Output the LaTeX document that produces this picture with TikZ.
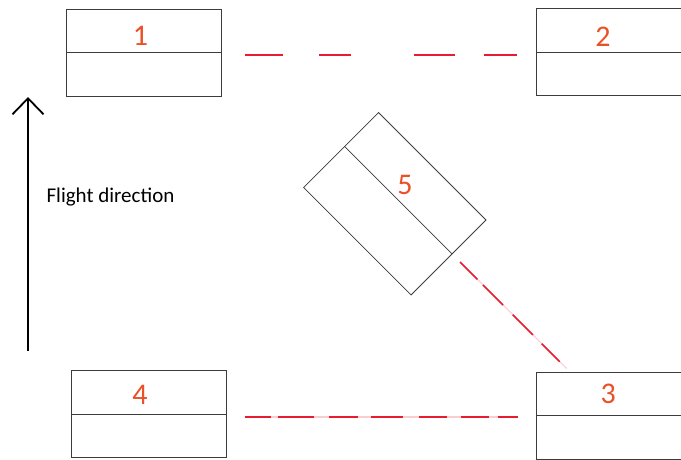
\documentclass[tikz,border=0pt]{standalone}
\usepackage{fontspec}
\setmainfont{Carlito}
\usetikzlibrary{arrows.meta,calc}

\definecolor{numred}{RGB}{235,80,38}
\definecolor{linkred}{RGB}{232,28,48}
\definecolor{boxline}{RGB}{60,60,60}

\tikzset{
  box/.style={draw=boxline, line width=0.8pt, minimum width=155pt,
    minimum height=87pt, inner sep=0pt, outer sep=0pt},
  divider/.style={draw=boxline, line width=0.8pt},
  num/.style={text=numred, inner sep=0pt, font=\fontsize{30}{30}\selectfont},
  link/.style={draw=linkred, line width=1.6pt},
  linkhaze/.style={draw=linkred!22, line width=1.2pt},
  heading/.style={draw=black, line width=1.8pt,
    -{Straight Barb[length=16pt,width=31pt,line width=1.8pt]}},
}

\begin{document}
\begin{tikzpicture}[x=1pt,y=-1pt]
  \clip (0,0) rectangle (681,459);
  \fill[white] (0,0) rectangle (681,459);

  % four parallel units
  \node[box] (n1) at (143.5,52.4) {};
  \node[box] (n2) at (614.2,52.2) {};
  \node[box] (n3) at (613.5,415.5) {};
  \node[box] (n4) at (149.1,414.3) {};
  \foreach \b in {n1,n2,n3,n4}
    \draw[divider] (\b.west) -- (\b.east);

  % the turned unit
  \node[box, minimum width=152pt, minimum height=106pt, rotate=-45]
    (n5) at (394.8,203.75) {};
  \coordinate (d5a) at ($(n5.north west)!48pt!(n5.south west)$);
  \coordinate (d5b) at ($(n5.north east)!48pt!(n5.south east)$);
  \draw[divider] (d5a) -- (d5b);

  % unit numbers
  \node[num] (l1) at (140.4,35.8) {1};
  \node[num] (l2) at (603.0,36.5) {2};
  \node[num] (l3) at (608.3,394.3) {3};
  \node[num] (l4) at (140.0,395.0) {4};
  \node[num] (l5) at (405.0,185.0) {5};

  % dashed links between units
  \draw[link, dash pattern=on 37.7pt off 36.6pt on 32pt off 63pt on 40.7pt off 29pt on 32.7pt off 60pt]
    ($(n1.east)+(24,2.6)$) -- ($(n2.west)+(-20,2.8)$);

  \draw[linkhaze] ($(n4.east)+(18,2.7)$) -- ($(n3.west)+(-17.8,1.5)$);
  \draw[link, dash pattern=on 26pt off 7.7pt on 35.3pt off 15.3pt on 29pt off 12.7pt on 32.7pt off 16pt on 27.3pt off 14pt on 28.3pt off 8.7pt on 20.7pt off 60pt]
    ($(n4.east)+(18,2.7)$) -- ($(n3.west)+(-17.8,1.5)$);

  \coordinate (s5) at ($(d5b)!-11.3pt!(d5a)$);
  \coordinate (e5) at ($(d5b)!-162pt!(d5a)$);
  \draw[linkhaze] (s5) -- (e5);
  \draw[link, dash pattern=on 24.6pt off 7.9pt on 28.3pt off 13.7pt on 28.7pt off 12.3pt on 25.5pt off 80pt]
    (s5) -- (e5);

  % flight direction
  \coordinate (tail) at (28,351);
  \coordinate (head) at (28,97);
  \draw[heading] (tail) -- (head);
  \node[inner sep=0pt, font=\fontsize{21}{25}\selectfont] (fd) at (110.5,197)
    {Flight direction};
\end{tikzpicture}
\end{document}
